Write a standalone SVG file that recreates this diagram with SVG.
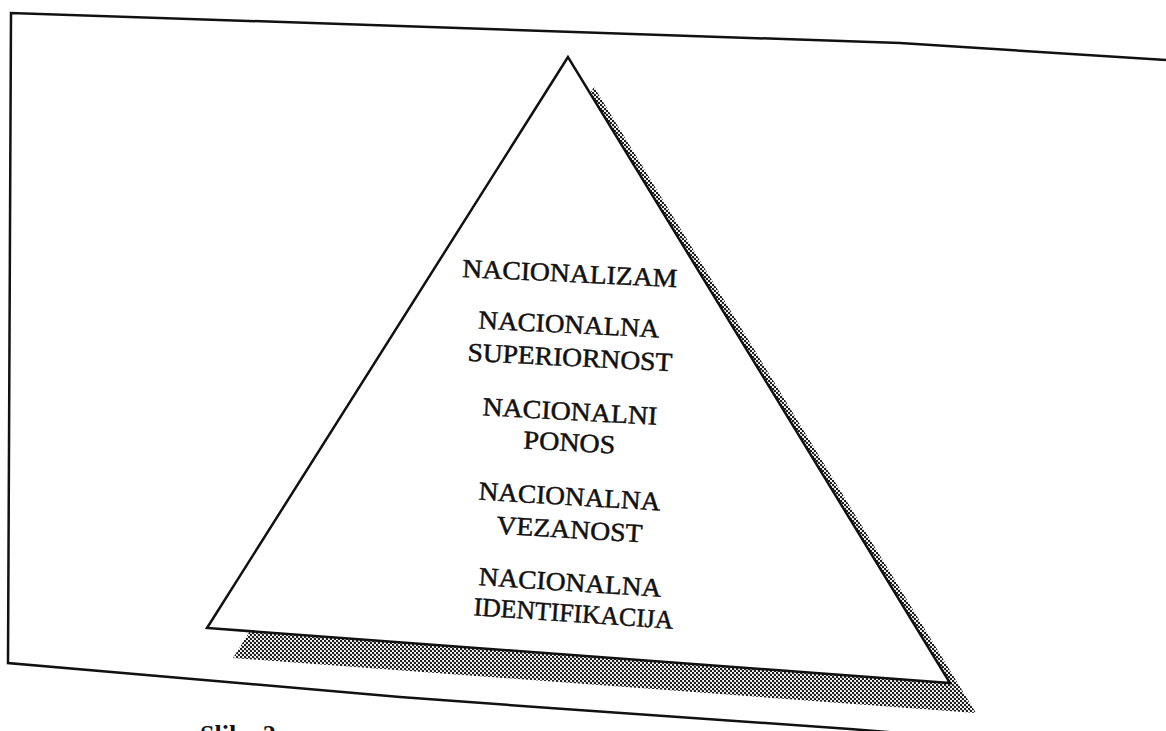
<svg xmlns="http://www.w3.org/2000/svg" width="1166" height="731" viewBox="0 0 1166 731">
  <style>
    .lbl { font-family: "Liberation Serif", "Times New Roman", serif; font-size: 26px; fill: #111; stroke: #111; stroke-width: 0.5; text-anchor: middle; }
    .cap { font-family: "Liberation Serif", "Times New Roman", serif; font-size: 26px; font-weight: bold; fill: #111; }
    .edge { fill: none; stroke: #111; stroke-width: 2.5; stroke-linejoin: miter; }
  </style>
  <defs>
    <pattern id="dots" patternUnits="userSpaceOnUse" width="4" height="4">
      <rect width="4" height="4" fill="#fff"/>
      <circle cx="1" cy="1" r="1.25" fill="#1a1a1a"/>
      <circle cx="3" cy="3" r="1.25" fill="#1a1a1a"/>
    </pattern>
  </defs>
  <rect width="1166" height="731" fill="#fff"/>

  <g id="frame">
    <path class="edge" d="M1166,60 L900,43 L400,26 L11,13 L8,663 L400,697 L550,708 L850,729 L900,733"/>
  </g>

  <g id="pyramid">
    <polygon id="shadow" points="594,87 233,658 976,713" fill="url(#dots)"/>
    <polygon id="triangle" points="568,57 207,628 950,683" fill="#fff" stroke="#111" stroke-width="2.5" stroke-linejoin="miter"/>
  </g>

  <g id="level5">
    <text class="lbl" x="569.5" y="282" textLength="215" lengthAdjust="spacingAndGlyphs" transform="rotate(2.7 569.5 282)">NACIONALIZAM</text>
  </g>
  <g id="level4">
    <text class="lbl" x="568.5" y="333" textLength="181" lengthAdjust="spacingAndGlyphs" transform="rotate(2.9 568.5 333)">NACIONALNA</text>
    <text class="lbl" x="569.5" y="366" textLength="205" lengthAdjust="spacingAndGlyphs" transform="rotate(2.9 569.5 366)">SUPERIORNOST</text>
  </g>
  <g id="level3">
    <text class="lbl" x="569.5" y="420" textLength="175" lengthAdjust="spacingAndGlyphs" transform="rotate(3.1 569.5 420)">NACIONALNI</text>
    <text class="lbl" x="569" y="451" textLength="92" lengthAdjust="spacingAndGlyphs" transform="rotate(3.1 569 451)">PONOS</text>
  </g>
  <g id="level2">
    <text class="lbl" x="569" y="505" textLength="182" lengthAdjust="spacingAndGlyphs" transform="rotate(3.4 569 505)">NACIONALNA</text>
    <text class="lbl" x="569" y="538" textLength="146" lengthAdjust="spacingAndGlyphs" transform="rotate(3.4 569 538)">VEZANOST</text>
  </g>
  <g id="level1">
    <text class="lbl" x="569.5" y="591" textLength="183" lengthAdjust="spacingAndGlyphs" transform="rotate(3.7 569.5 591)">NACIONALNA</text>
    <text class="lbl" x="573" y="622" textLength="200" lengthAdjust="spacingAndGlyphs" transform="rotate(3.9 573 622)">IDENTIFIKACIJA</text>
  </g>

  <g id="caption">
    <text class="cap" x="200" y="743">Slika 2.</text>
  </g>
</svg>
